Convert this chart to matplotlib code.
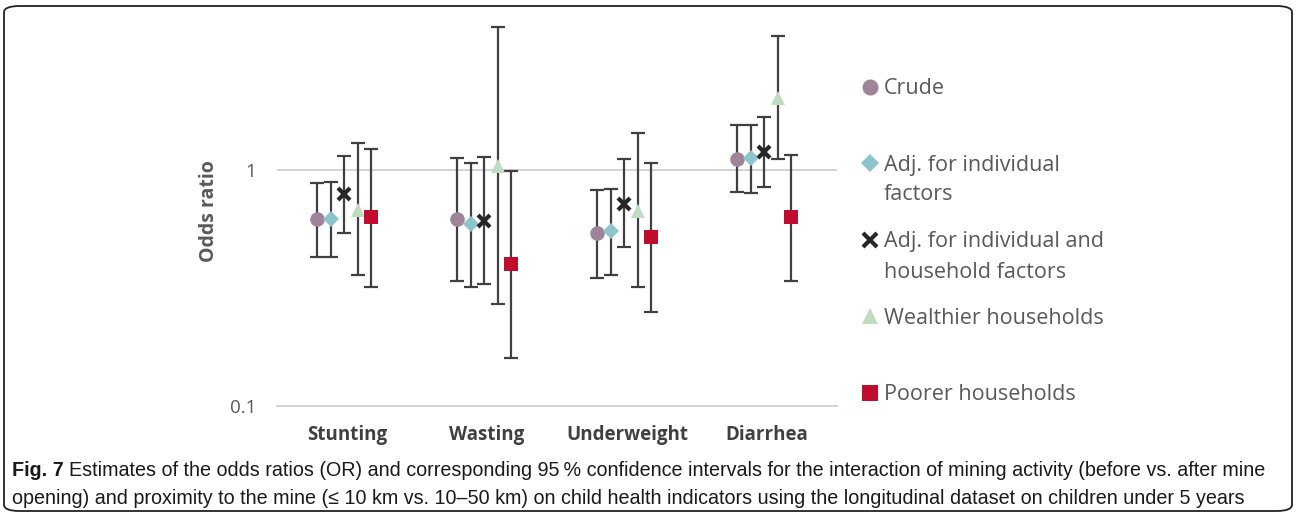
import numpy as np
import matplotlib
matplotlib.use('Agg')
from matplotlib import pyplot as plt
from matplotlib.lines import Line2D
from matplotlib.patches import FancyBboxPatch

categories = ['Stunting', 'Wasting', 'Underweight', 'Diarrhea']
series_names = ['Crude', 'Adj. for individual\nfactors', 'Adj. for individual and\nhousehold factors',
                'Wealthier households', 'Poorer households']

# odds ratio estimates, one list per series (Stunting, Wasting, Underweight, Diarrhea)
crude = [0.62, 0.62, 0.54, 1.11]
crude_lo = [0.43, 0.34, 0.35, 0.81]
crude_hi = [0.88, 1.12, 0.82, 1.55]

adj_ind = [0.62, 0.59, 0.55, 1.12]
adj_ind_lo = [0.43, 0.32, 0.36, 0.80]
adj_ind_hi = [0.89, 1.07, 0.83, 1.56]

adj_hh = [0.79, 0.61, 0.72, 1.19]
adj_hh_lo = [0.54, 0.33, 0.47, 0.85]
adj_hh_hi = [1.15, 1.14, 1.11, 1.68]

wealthy = [0.68, 1.04, 0.67, 2.02]
wealthy_lo = [0.36, 0.27, 0.32, 1.11]
wealthy_hi = [1.30, 4.03, 1.43, 3.72]

poor = [0.63, 0.40, 0.52, 0.63]
poor_lo = [0.32, 0.16, 0.25, 0.34]
poor_hi = [1.23, 0.99, 1.07, 1.16]

est = [crude, adj_ind, adj_hh, wealthy, poor]
lo = [crude_lo, adj_ind_lo, adj_hh_lo, wealthy_lo, poor_lo]
hi = [crude_hi, adj_ind_hi, adj_hh_hi, wealthy_hi, poor_hi]

colors = ['#9e8499', '#8cc5cb', '#262626', '#bfdcc1', '#c00d2d']
markers = ['o', 'D', 'x', '^', 's']
msizes = [10.5, 8, 9, 10.5, 10]

main_font = 'Open Sans'
cap_font = 'Liberation Sans'

W, H = 1296, 522
fig = plt.figure(figsize=(W / 100, H / 100), dpi=100)

# rounded frame around chart + caption
frame = FancyBboxPatch((4 / W, 11 / H), 1288 / W, 505 / H, boxstyle='round,pad=0,rounding_size=0.012',
                       transform=fig.transFigure, fill=False, edgecolor='#222222', linewidth=1.3)
fig.add_artist(frame)

ax = fig.add_axes([277 / W, (H - 406) / H, 560 / W, (406 - 16) / H])
ax.set_yscale('log')
ax.set_ylim(0.1, 4.5)
ax.set_xlim(-0.5, 3.5)

x = np.arange(len(categories))
step = 0.097
for i in range(5):
    xs = x + (i - 2) * step - 0.02
    y = np.array(est[i])
    yerr = [y - np.array(lo[i]), np.array(hi[i]) - y]
    ax.errorbar(xs, y, yerr=yerr, fmt='none', ecolor='#404040', elinewidth=1.6, capsize=5, capthick=1.6, zorder=2)
    mew = 3 if markers[i] == 'x' else 0
    ax.plot(xs, y, linestyle='none', marker=markers[i], markersize=msizes[i], color=colors[i],
            markeredgewidth=mew, zorder=3)

ax.axhline(1, color='#d0d0d0', linewidth=1.3, zorder=1)
for s in ['top', 'right', 'left']:
    ax.spines[s].set_visible(False)
ax.spines['bottom'].set_color('#d0d0d0')
ax.spines['bottom'].set_linewidth(1.3)
ax.set_yticks([0.1, 1])
ax.set_yticklabels(['0.1', '1'])
ax.yaxis.set_minor_locator(matplotlib.ticker.NullLocator())
ax.tick_params(axis='y', length=0, pad=15, labelsize=13.5, labelcolor='#595959')
ax.tick_params(axis='x', length=0, pad=14, labelsize=13.5, labelcolor='#404040')
ax.set_xticks(x)
ax.set_xticklabels(categories, fontweight='bold', fontfamily=main_font)
for t in ax.get_yticklabels():
    t.set_fontfamily(main_font)
ax.set_ylabel('Odds ratio', fontsize=14, fontweight='bold', color='#595959', fontfamily=main_font, labelpad=8)

# legend drawn by hand to keep Excel-like spacing
leg_y = [87, 163, 240, 316, 393]
for i in range(5):
    yy = (H - leg_y[i]) / H
    mew = 3 if markers[i] == 'x' else 0
    fig.add_artist(Line2D([870 / W], [yy], marker=markers[i], markersize=msizes[i] * 1.1, color=colors[i],
                          markeredgewidth=mew, linestyle='none', transform=fig.transFigure))
    for j, line in enumerate(series_names[i].split('\n')):
        fig.text(884 / W, (H - leg_y[i] - 2 - 30 * j) / H, line, fontsize=15.5, color='#595959',
                 fontfamily=main_font, va='center', ha='left')

# caption: bold "Fig. 7" followed by regular text, sized to span the frame width
cap1 = ('Estimates of the odds ratios (OR) and corresponding 95\u2009% confidence intervals for the interaction '
        'of mining activity (before vs. after mine')
cap2 = ('opening) and proximity to the mine (\u2264 10 km vs. 10\u201350 km) on child health indicators using the '
        'longitudinal dataset on children under 5 years')
fig.canvas.draw()
r = fig.canvas.get_renderer()
fs = 15
t1 = fig.text(12 / W, (H - 470) / H, 'Fig. 7', fontsize=fs, fontweight='bold', fontfamily=cap_font,
              va='center', ha='left', color='#1a1a1a')
t2 = fig.text(0, (H - 470) / H, cap1, fontsize=fs, fontfamily=cap_font, va='center', ha='left', color='#1a1a1a')
w_total = t1.get_window_extent(renderer=r).width + 5 + t2.get_window_extent(renderer=r).width
fs = fs * (1250 / w_total)
t1.set_fontsize(fs)
t2.set_fontsize(fs)
bb = t1.get_window_extent(renderer=r)
t2.set_x((bb.x1 + 5) / W)
fig.text(12 / W, (H - 498) / H, cap2, fontsize=fs, fontfamily=cap_font, va='center', ha='left', color='#1a1a1a')

fig.savefig('out.png', dpi=100)
